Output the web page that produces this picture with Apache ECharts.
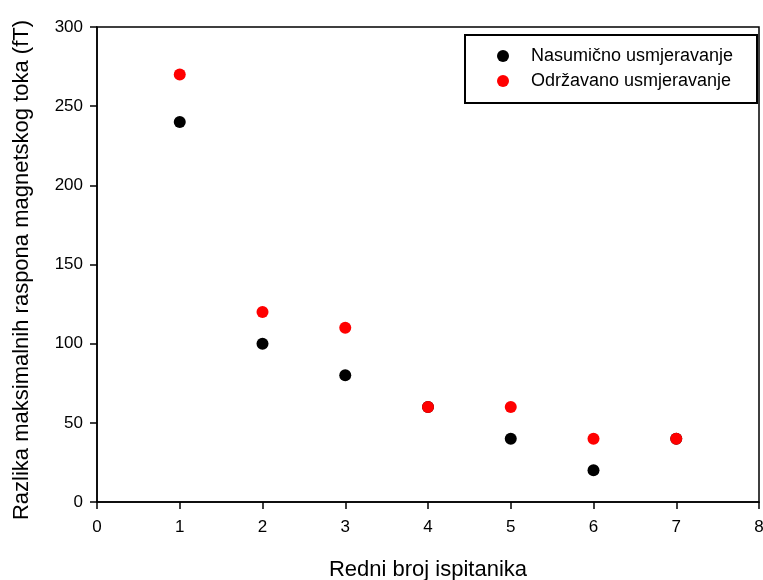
<!DOCTYPE html>
<html><head><meta charset="utf-8">
<script src="https://cdn.jsdelivr.net/npm/echarts@6/dist/echarts.min.js"></script>
<style>html,body{margin:0;padding:0;background:#fff}#c{width:763px;height:580px}</style>
</head><body><div id="c"></div>
<script>
var seriesNames = ['Nasumično usmjeravanje', 'Održavano usmjeravanje'];
var subjects = [1, 2, 3, 4, 5, 6, 7];
var nasumicno = [240, 100, 80, 60, 40, 20, 40];
var odrzavano = [270, 120, 110, 60, 60, 40, 40];
var xTitle = 'Redni broj ispitanika';
var yTitle = 'Razlika maksimalnih raspona magnetskog toka (fT)';

function pairs(xs, ys){ return xs.map(function(x,i){ return [x, ys[i]]; }); }
var font = 'Liberation Sans, Arial, sans-serif';
var chart = echarts.init(document.getElementById('c'));
chart.setOption({
  animation: false,
  grid: {left: 97, right: 4, top: 27, bottom: 78, show: true, borderColor: '#000', borderWidth: 1.5, backgroundColor: 'transparent', outerBoundsMode: 'none', containLabel: false},
  graphic: [{type: 'rect', left: 464, top: 34, shape: {width: 292, height: 68}, style: {fill: 'transparent', stroke: '#000', lineWidth: 2}, z: 10}],
  legend: {
    orient: 'vertical', left: 497, top: 47, itemGap: 7, itemWidth: 12, itemHeight: 12,
    padding: 0,
    data: [{name: seriesNames[0], icon: 'circle'}, {name: seriesNames[1], icon: 'circle'}],
    textStyle: {fontFamily: font, fontSize: 18, color: '#000', padding: [0,0,0,17]}
  },
  xAxis: {
    type: 'value', min: 0, max: 8, interval: 1,
    name: xTitle, nameLocation: 'middle', nameGap: 57,
    nameTextStyle: {fontFamily: font, fontSize: 22, color: '#000'},
    axisLine: {show: true, lineStyle: {color: '#000', width: 1.5}},
    axisTick: {show: true, length: 7, lineStyle: {color: '#000', width: 1.5}},
    axisLabel: {fontFamily: font, fontSize: 17, color: '#000', margin: 17},
    splitLine: {show: false}
  },
  yAxis: {
    type: 'value', min: 0, max: 300, interval: 50,
    name: yTitle, nameLocation: 'middle', nameGap: 64,
    nameTextStyle: {fontFamily: font, fontSize: 22, color: '#000', padding: [0, 11, 0, 0]},
    axisLine: {show: true, lineStyle: {color: '#000', width: 1.5}},
    axisTick: {show: true, length: 7, lineStyle: {color: '#000', width: 1.5}},
    axisLabel: {fontFamily: font, fontSize: 17, color: '#000', margin: 14},
    splitLine: {show: false}
  },
  series: [
    {name: seriesNames[0], type: 'scatter', symbol: 'circle', symbolSize: 12, itemStyle: {color: '#000', opacity: 1}, data: pairs(subjects, nasumicno), z: 2},
    {name: seriesNames[1], type: 'scatter', symbol: 'circle', symbolSize: 12, itemStyle: {color: '#ff0000', opacity: 1}, data: pairs(subjects, odrzavano), z: 3}
  ]
});
</script></body></html>
